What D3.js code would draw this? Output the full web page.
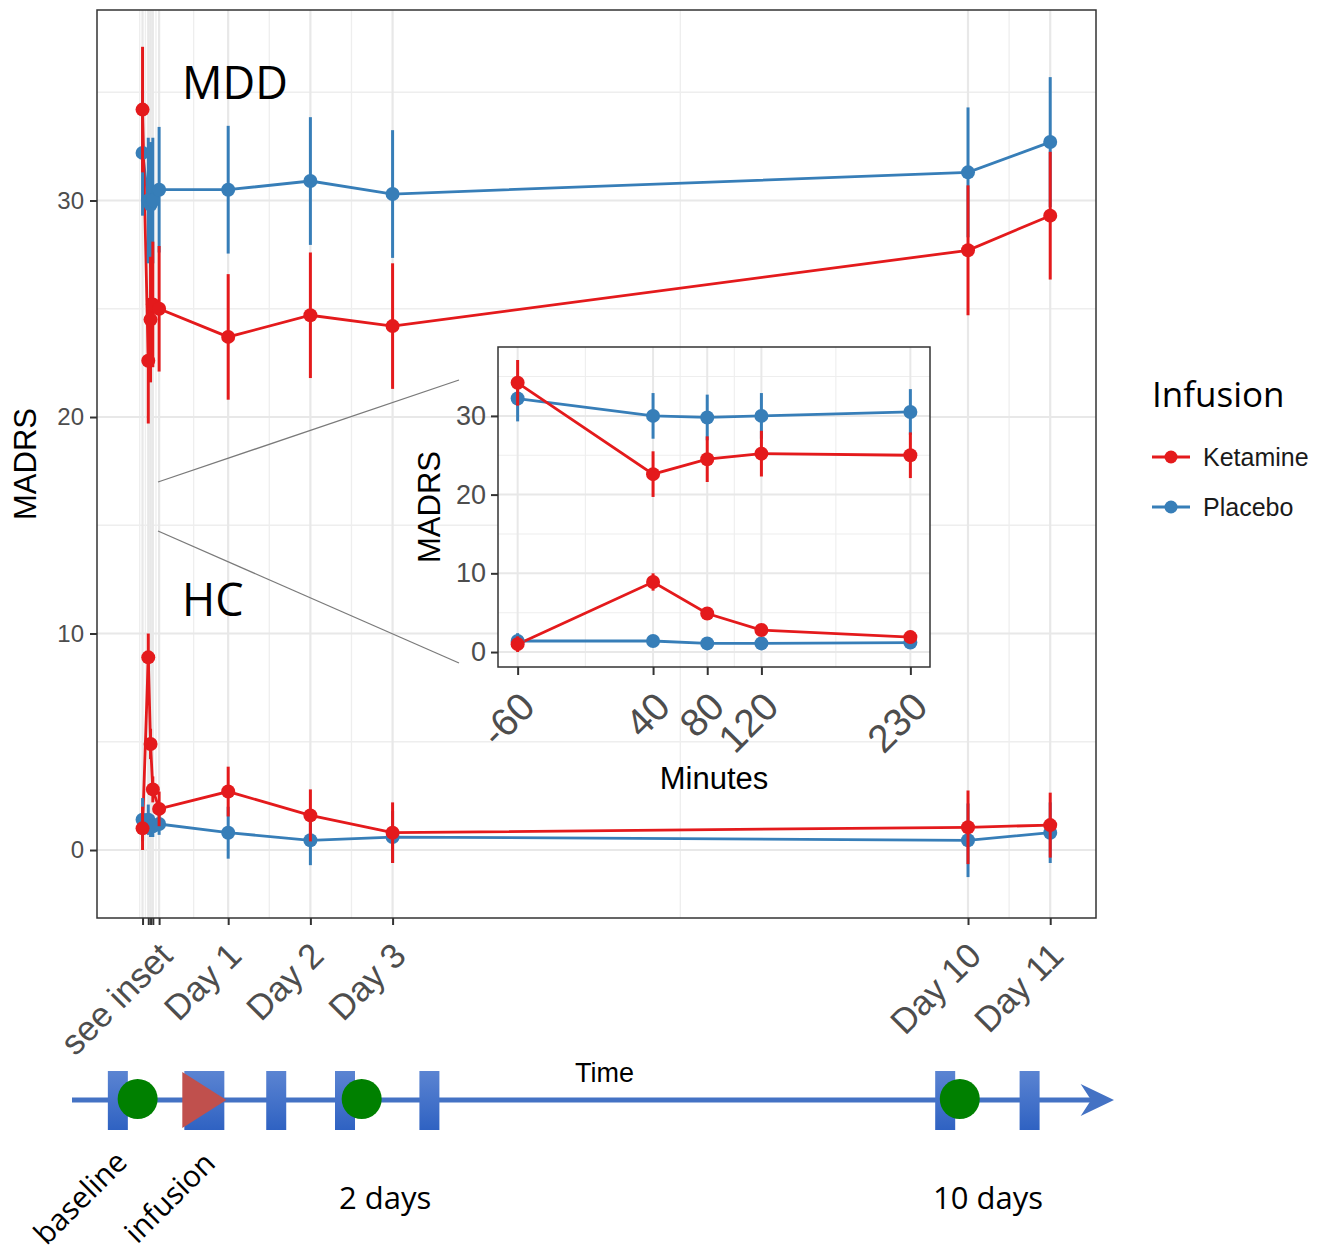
<!DOCTYPE html>
<html>
<head>
<meta charset="utf-8">
<script src="https://cdn.jsdelivr.net/npm/d3@7"></script>
<style>
body { margin: 0; background: #fff; }
svg { display: block; }
</style>
</head>
<body>
<div id="chart"></div>
<script>
// time points, minutes from infusion start
var minutes = [-60, 40, 80, 120, 230, 1440, 2880, 4320, 14400, 15840];
var mainTickLabels = ["", "", "", "", "see inset", "Day 1", "Day 2", "Day 3", "Day 10", "Day 11"];
var insetTickLabels = ["-60", "40", "80", "120", "230"];
var yTicks = [0, 10, 20, 30];
var groups = ["Ketamine", "Placebo"];

// MADRS means and error half-widths
var mddKetamine   = [34.2, 22.6, 24.5, 25.2, 25.0, 23.7, 24.7, 24.2, 27.7, 29.3];
var mddKetamineSe = [2.9, 2.9, 2.9, 2.9, 2.9, 2.9, 2.9, 2.9, 3.0, 2.95];
var mddPlacebo    = [32.2, 30.0, 29.8, 30.0, 30.5, 30.5, 30.9, 30.3, 31.3, 32.7];
var mddPlaceboSe  = [2.9, 2.9, 2.9, 2.9, 2.9, 2.95, 2.95, 2.95, 3.0, 3.0];
var hcKetamine    = [1.0, 8.9, 4.9, 2.8, 1.9, 2.7, 1.6, 0.8, 1.05, 1.15];
var hcKetamineSe  = [1.0, 1.1, 0.7, 0.6, 0.8, 1.15, 1.2, 1.4, 1.7, 1.5];
var hcPlacebo     = [1.4, 1.4, 1.1, 1.1, 1.2, 0.8, 0.45, 0.6, 0.45, 0.8];
var hcPlaceboSe   = [1.0, 0.7, 0.5, 0.5, 0.5, 1.2, 1.15, 1.2, 1.7, 1.4];

// study timeline schematic (arbitrary time units 0-100)
var visitUnits = [4.4, 12.7, 19.6, 26.2, 34.3, 83.8, 91.9];
var scanUnits = [6.3, 27.8, 85.2];
var infusionUnit = 12.7;

var colors = { Ketamine: "#e41a1c", Placebo: "#377eb8" };
var sansFont = "'Liberation Sans', Arial, sans-serif";
var calFont = "'Open Sans', 'Noto Sans', sans-serif";

var svg = d3.select("#chart")
  .append("svg")
  .attr("width", 1326)
  .attr("height", 1254);

// ---------- main panel ----------
var panel = { left: 97, top: 10, right: 1096, bottom: 918 };

var xScale = d3.scaleLinear()
  .domain([-858, 16642])
  .range([panel.left, panel.right]);

var yScale = d3.scaleLinear()
  .domain([-3.14, 38.8])
  .range([panel.bottom, panel.top]);

function minorBreaks(b) {
  var out = [b[0] - (b[1] - b[0]) / 2];
  for (var i = 0; i < b.length - 1; i++) out.push((b[i] + b[i + 1]) / 2);
  return out;
}

function drawGrid(g, xs, ys, xb, yb, x0, x1, y0, y1, majorW, minorW) {
  var xMinor = minorBreaks(xb).filter(function(v) { return xs(v) > x0 && xs(v) < x1; });
  var yMinor = [5, 15, 25, 35];
  g.selectAll(".minY").data(yMinor).enter().append("line")
    .attr("x1", x0).attr("x2", x1)
    .attr("y1", d => ys(d)).attr("y2", d => ys(d))
    .attr("stroke", "#eeeeee").attr("stroke-width", minorW);
  g.selectAll(".minX").data(xMinor).enter().append("line")
    .attr("x1", d => xs(d)).attr("x2", d => xs(d))
    .attr("y1", y0).attr("y2", y1)
    .attr("stroke", "#eeeeee").attr("stroke-width", minorW);
  g.selectAll(".majY").data(yb).enter().append("line")
    .attr("x1", x0).attr("x2", x1)
    .attr("y1", d => ys(d)).attr("y2", d => ys(d))
    .attr("stroke", "#e8e8e8").attr("stroke-width", majorW);
  g.selectAll(".majX").data(xb).enter().append("line")
    .attr("x1", d => xs(d)).attr("x2", d => xs(d))
    .attr("y1", y0).attr("y2", y1)
    .attr("stroke", "#e8e8e8").attr("stroke-width", majorW);
}

function drawSeries(g, xs, ys, xvals, vals, ses, color) {
  var pts = xvals.map(function(x, i) { return { x: x, y: vals[i], se: ses[i] }; });
  g.append("path")
    .datum(pts)
    .attr("fill", "none")
    .attr("stroke", color)
    .attr("stroke-width", 2.8)
    .attr("d", d3.line().x(d => xs(d.x)).y(d => ys(d.y)));
  return pts;
}

function drawRanges(g, xs, ys, pts, color, r) {
  g.selectAll(null).data(pts).enter().append("line")
    .attr("x1", d => xs(d.x)).attr("x2", d => xs(d.x))
    .attr("y1", d => ys(d.y - d.se)).attr("y2", d => ys(d.y + d.se))
    .attr("stroke", color).attr("stroke-width", 3);
  g.selectAll(null).data(pts).enter().append("circle")
    .attr("cx", d => xs(d.x)).attr("cy", d => ys(d.y))
    .attr("r", r).attr("fill", color);
}

var mainGrid = svg.append("g");
drawGrid(mainGrid, xScale, yScale, minutes, yTicks, panel.left, panel.right, panel.top, panel.bottom, 2.2, 1.3);

var mainData = svg.append("g");
var series = [
  { v: mddPlacebo, s: mddPlaceboSe, c: colors.Placebo },
  { v: hcPlacebo, s: hcPlaceboSe, c: colors.Placebo },
  { v: mddKetamine, s: mddKetamineSe, c: colors.Ketamine },
  { v: hcKetamine, s: hcKetamineSe, c: colors.Ketamine }
];
var mainPts = series.map(function(s) {
  return drawSeries(mainData, xScale, yScale, minutes, s.v, s.s, s.c);
});
series.forEach(function(s, i) { drawRanges(mainData, xScale, yScale, mainPts[i], s.c, 7); });

svg.append("rect")
  .attr("x", panel.left).attr("y", panel.top)
  .attr("width", panel.right - panel.left).attr("height", panel.bottom - panel.top)
  .attr("fill", "none").attr("stroke", "#333").attr("stroke-width", 1.5);

// axes
var leftAxis = d3.axisLeft(yScale).tickValues(yTicks).tickSize(7).tickPadding(6);
var yAxisG = svg.append("g")
  .attr("transform", `translate(${panel.left}, 0)`)
  .call(leftAxis);
yAxisG.select(".domain").remove();
yAxisG.selectAll("line").attr("stroke", "#333").attr("stroke-width", 2);
yAxisG.selectAll("text").attr("font-family", sansFont).attr("font-size", 24).attr("fill", "#4d4d4d");

var bottomAxis = d3.axisBottom(xScale).tickValues(minutes)
  .tickFormat((d, i) => mainTickLabels[i]).tickSize(7);
var xAxisG = svg.append("g")
  .attr("transform", `translate(0, ${panel.bottom})`)
  .call(bottomAxis);
xAxisG.select(".domain").remove();
xAxisG.selectAll("line").attr("stroke", "#333").attr("stroke-width", 2);
xAxisG.selectAll("text")
  .attr("font-family", sansFont).attr("font-size", 35).attr("fill", "#4d4d4d")
  .attr("x", 0).attr("y", 0).attr("dy", "0.72em")
  .attr("transform", "translate(-3, 22) rotate(-45)")
  .style("text-anchor", "end");

svg.append("text")
  .attr("transform", `translate(36, ${(panel.top + panel.bottom) / 2}) rotate(-90)`)
  .attr("text-anchor", "middle")
  .attr("font-family", sansFont).attr("font-size", 31)
  .text("MADRS");

svg.append("text").attr("x", 182).attr("y", 99)
  .attr("font-family", calFont).attr("font-size", 45).text("MDD");
svg.append("text").attr("x", 182).attr("y", 616)
  .attr("font-family", calFont).attr("font-size", 45).text("HC");

// zoom lines to inset
svg.append("line").attr("x1", 158).attr("y1", 482).attr("x2", 459).attr("y2", 380)
  .attr("stroke", "#7a7a7a").attr("stroke-width", 1.3);
svg.append("line").attr("x1", 158).attr("y1", 531).attr("x2", 459).attr("y2", 663)
  .attr("stroke", "#7a7a7a").attr("stroke-width", 1.3);

// ---------- inset ----------
var inset = { left: 498, top: 347, right: 930, bottom: 667 };
var insetMin = minutes.slice(0, 5);

var xInset = d3.scaleLinear()
  .domain([-74.5, 244.5])
  .range([inset.left, inset.right]);
var yInset = d3.scaleLinear()
  .domain([-1.9, 38.75])
  .range([inset.bottom, inset.top]);

svg.append("rect")
  .attr("x", inset.left).attr("y", inset.top)
  .attr("width", inset.right - inset.left).attr("height", inset.bottom - inset.top)
  .attr("fill", "#fff");

var insetGrid = svg.append("g");
drawGrid(insetGrid, xInset, yInset, insetMin, yTicks, inset.left, inset.right, inset.top, inset.bottom, 2, 1.1);

var insetData = svg.append("g");
var insetPts = series.map(function(s) {
  return drawSeries(insetData, xInset, yInset, insetMin, s.v.slice(0, 5), s.s.slice(0, 5), s.c);
});
series.forEach(function(s, i) { drawRanges(insetData, xInset, yInset, insetPts[i], s.c, 7); });

svg.append("rect")
  .attr("x", inset.left).attr("y", inset.top)
  .attr("width", inset.right - inset.left).attr("height", inset.bottom - inset.top)
  .attr("fill", "none").attr("stroke", "#333").attr("stroke-width", 1.5);

var insetLeftAxis = d3.axisLeft(yInset).tickValues(yTicks).tickSize(7).tickPadding(5);
var iy = svg.append("g")
  .attr("transform", `translate(${inset.left}, 0)`)
  .call(insetLeftAxis);
iy.select(".domain").remove();
iy.selectAll("line").attr("stroke", "#333").attr("stroke-width", 2);
iy.selectAll("text").attr("font-family", sansFont).attr("font-size", 27).attr("fill", "#4d4d4d");

var insetBottomAxis = d3.axisBottom(xInset).tickValues(insetMin)
  .tickFormat((d, i) => insetTickLabels[i]).tickSize(8);
var ix = svg.append("g")
  .attr("transform", `translate(0, ${inset.bottom})`)
  .call(insetBottomAxis);
ix.select(".domain").remove();
ix.selectAll("line").attr("stroke", "#333").attr("stroke-width", 2);
ix.selectAll("text")
  .attr("font-family", sansFont).attr("font-size", 39).attr("fill", "#4d4d4d")
  .attr("x", 0).attr("y", 0).attr("dy", "0.72em")
  .attr("transform", "translate(-1, 22) rotate(-45)")
  .style("text-anchor", "end");

svg.append("text")
  .attr("transform", `translate(440, ${(inset.top + inset.bottom) / 2}) rotate(-90)`)
  .attr("text-anchor", "middle")
  .attr("font-family", sansFont).attr("font-size", 31)
  .text("MADRS");
svg.append("text")
  .attr("x", (inset.left + inset.right) / 2).attr("y", 789)
  .attr("text-anchor", "middle")
  .attr("font-family", sansFont).attr("font-size", 31)
  .text("Minutes");

// ---------- legend ----------
svg.append("text").attr("x", 1152).attr("y", 407)
  .attr("font-family", calFont).attr("font-size", 35).text("Infusion");
var legend = svg.selectAll(".legendItem").data(groups).enter().append("g")
  .attr("transform", (d, i) => `translate(1152, ${457 + i * 50})`);
legend.append("line").attr("x1", 0).attr("x2", 38)
  .attr("stroke", d => colors[d]).attr("stroke-width", 2.8);
legend.append("circle").attr("cx", 19).attr("r", 6.5).attr("fill", d => colors[d]);
legend.append("text").attr("x", 51).attr("y", 9)
  .attr("font-family", sansFont).attr("font-size", 25).attr("fill", "#1a1a1a")
  .text(d => d);

// ---------- timeline schematic ----------
var tl = d3.scaleLinear().domain([0, 100]).range([72, 1114]);
var tlY = 1100;

var defs = svg.append("defs");
var grad = defs.append("linearGradient").attr("id", "visitGrad")
  .attr("x1", 0).attr("x2", 0).attr("y1", 0).attr("y2", 1);
grad.append("stop").attr("offset", "0%").attr("stop-color", "#5b84d2");
grad.append("stop").attr("offset", "100%").attr("stop-color", "#2f62c2");

svg.append("line")
  .attr("x1", tl(0)).attr("x2", tl(98.5))
  .attr("y1", tlY).attr("y2", tlY)
  .attr("stroke", "#4472c4").attr("stroke-width", 5);
svg.append("path")
  .attr("d", `M${tl(96.8)},${tlY - 16} L${tl(100)},${tlY} L${tl(96.8)},${tlY + 16} L${tl(97.8)},${tlY} Z`)
  .attr("fill", "#4472c4");

svg.selectAll(".visit").data(visitUnits).enter().append("rect")
  .attr("x", d => tl(d) - (d === infusionUnit ? 20 : 10))
  .attr("y", tlY - 29)
  .attr("width", d => d === infusionUnit ? 40 : 20)
  .attr("height", 59)
  .attr("fill", "url(#visitGrad)");

svg.selectAll(".scan").data(scanUnits).enter().append("circle")
  .attr("cx", d => tl(d)).attr("cy", tlY - 1).attr("r", 20)
  .attr("fill", "#008000");

svg.append("path")
  .attr("d", `M${tl(infusionUnit) - 22},${tlY - 28} L${tl(infusionUnit) + 22},${tlY} L${tl(infusionUnit) - 22},${tlY + 28} Z`)
  .attr("fill", "#c0504d");

svg.append("text").attr("x", 575).attr("y", 1082)
  .attr("font-family", sansFont).attr("font-size", 27).text("Time");
svg.append("text").attr("x", 339).attr("y", 1209)
  .attr("font-family", calFont).attr("font-size", 31).text("2 days");
svg.append("text").attr("x", 933).attr("y", 1209)
  .attr("font-family", calFont).attr("font-size", 31).text("10 days");
svg.append("text")
  .attr("transform", "translate(113, 1148) rotate(-45)")
  .attr("dy", "0.75em").attr("text-anchor", "end")
  .attr("font-family", calFont).attr("font-size", 30).text("baseline");
svg.append("text")
  .attr("transform", "translate(201, 1149) rotate(-45)")
  .attr("dy", "0.75em").attr("text-anchor", "end")
  .attr("font-family", calFont).attr("font-size", 30).text("infusion");
</script>
</body>
</html>
